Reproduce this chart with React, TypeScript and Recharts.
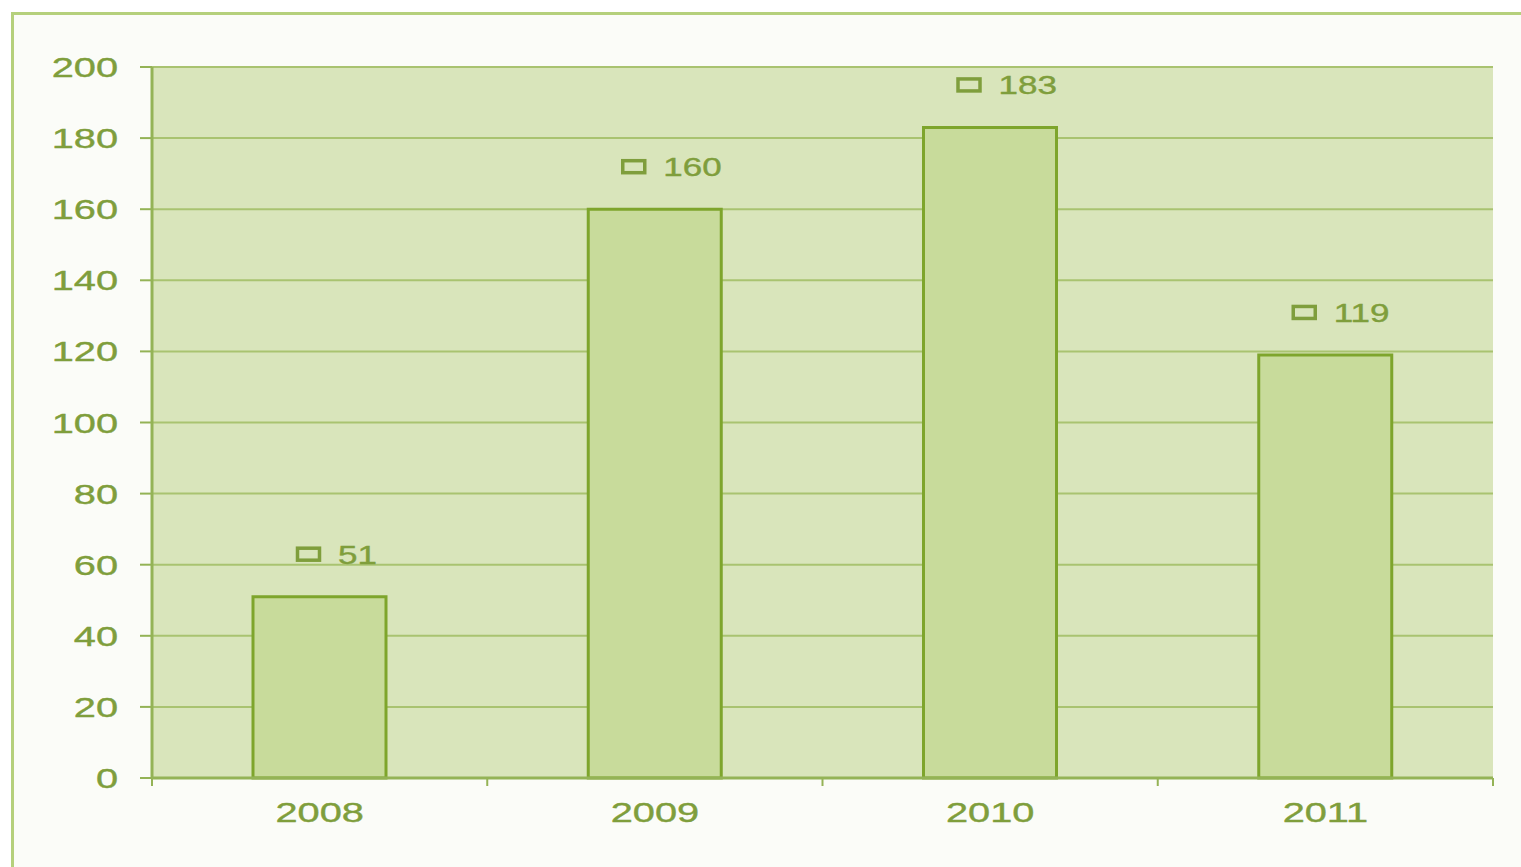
import React from "react";
import {
  Bar,
  BarChart,
  CartesianGrid,
  LabelList,
  XAxis,
  YAxis,
} from "recharts";

const years = ["2008", "2009", "2010", "2011"];
const counts = [51, 160, 183, 119];
const yTicks = [0, 20, 40, 60, 80, 100, 120, 140, 160, 180, 200];

const W = 1521;
const H = 867;
const FONT = '"Liberation Sans", Arial, sans-serif';
const TEXT = "#7f9e3c";
const GRID = "#a9c370";
const AXIS = "#94b356";
const PLOT_BG = "#d9e5bb";
const BAR_FILL = "#c8db9b";
const BAR_STROKE = "#7ea52c";
const STRETCH = 1.42;

const data = years.map((year, i) => ({ year, count: counts[i] }));

function YTick(props: any) {
  const { x, y, payload } = props;
  return (
    <text
      transform={`translate(${x},${y + 10}) scale(${STRETCH},1)`}
      textAnchor="end"
      fill={TEXT}
      stroke={TEXT}
      strokeWidth={0.4}
      fontSize={28}
      fontFamily={FONT}
    >
      {payload.value}
    </text>
  );
}

function XTick(props: any) {
  const { x, y, payload, index } = props;
  const half = payload.offset || 167.6;
  const last = index === years.length - 1;
  return (
    <g>
      <line x1={x - half} x2={x - half} y1={y} y2={y + 8} stroke={AXIS} strokeWidth={2} />
      {last && (
        <line x1={x + half} x2={x + half} y1={y} y2={y + 8} stroke={AXIS} strokeWidth={2} />
      )}
      <text
        transform={`translate(${x},${y + 44}) scale(${STRETCH},1)`}
        textAnchor="middle"
        fill={TEXT}
        stroke={TEXT}
        strokeWidth={0.4}
        fontSize={28}
        fontFamily={FONT}
      >
        {payload.value}
      </text>
    </g>
  );
}

function ValueLabel(props: any) {
  const { x, y, width, value } = props;
  const cx = Number(x) + Number(width) / 2;
  const digits = String(value).length;
  const total = 45 + 20 * digits;
  const start = cx + 19 - total / 2;
  const base = Number(y) - 33;
  return (
    <g>
      <rect
        x={start + 1.5}
        y={base - 15.5}
        width={22}
        height={12}
        fill="none"
        stroke={TEXT}
        strokeWidth={3.5}
      />
      <text
        transform={`translate(${start + 42},${base}) scale(1.4,1)`}
        fill={TEXT}
        stroke={TEXT}
        strokeWidth={0.4}
        fontSize={25}
        fontFamily={FONT}
      >
        {value}
      </text>
    </g>
  );
}

export default function App() {
  return (
    <div
      style={{
        position: "fixed",
        left: 0,
        top: 0,
        width: W,
        height: H,
        overflow: "hidden",
        background: "#ffffff",
      }}
    >
      <div
        style={{
          position: "absolute",
          left: 11,
          top: 12,
          width: W + 40,
          height: H + 40,
          boxSizing: "border-box",
          borderTop: "3px solid #b5d07c",
          borderLeft: "3px solid #b5d07c",
          background: "#fbfcf8",
        }}
      />
      <div style={{ position: "absolute", left: 0, top: 0 }}>
        <BarChart
          width={W}
          height={H}
          data={data}
          margin={{ top: 67, right: 28, left: 0, bottom: 0 }}
        >
          <CartesianGrid
            vertical={false}
            fill={PLOT_BG}
            stroke={GRID}
            strokeWidth={2}
          />
          <XAxis
            dataKey="year"
            height={89}
            tickLine={false}
            tickSize={0}
            tickMargin={0}
            axisLine={{ stroke: AXIS, strokeWidth: 3 }}
            tick={<XTick />}
            interval={0}
          />
          <YAxis
            type="number"
            domain={[0, 200]}
            ticks={yTicks}
            width={152}
            tickSize={12}
            tickMargin={22}
            tickLine={{ stroke: AXIS, strokeWidth: 2 }}
            axisLine={{ stroke: AXIS, strokeWidth: 3 }}
            tick={<YTick />}
            interval={0}
          />
          <YAxis
            yAxisId="right"
            orientation="right"
            width={0}
            tick={false}
            tickLine={false}
            axisLine={{ stroke: "#b9c6a2", strokeWidth: 2 }}
          />
          <Bar
            dataKey="count"
            barSize={133}
            fill={BAR_FILL}
            stroke={BAR_STROKE}
            strokeWidth={3}
            isAnimationActive={false}
          >
            <LabelList dataKey="count" content={<ValueLabel />} />
          </Bar>
        </BarChart>
      </div>
    </div>
  );
}
